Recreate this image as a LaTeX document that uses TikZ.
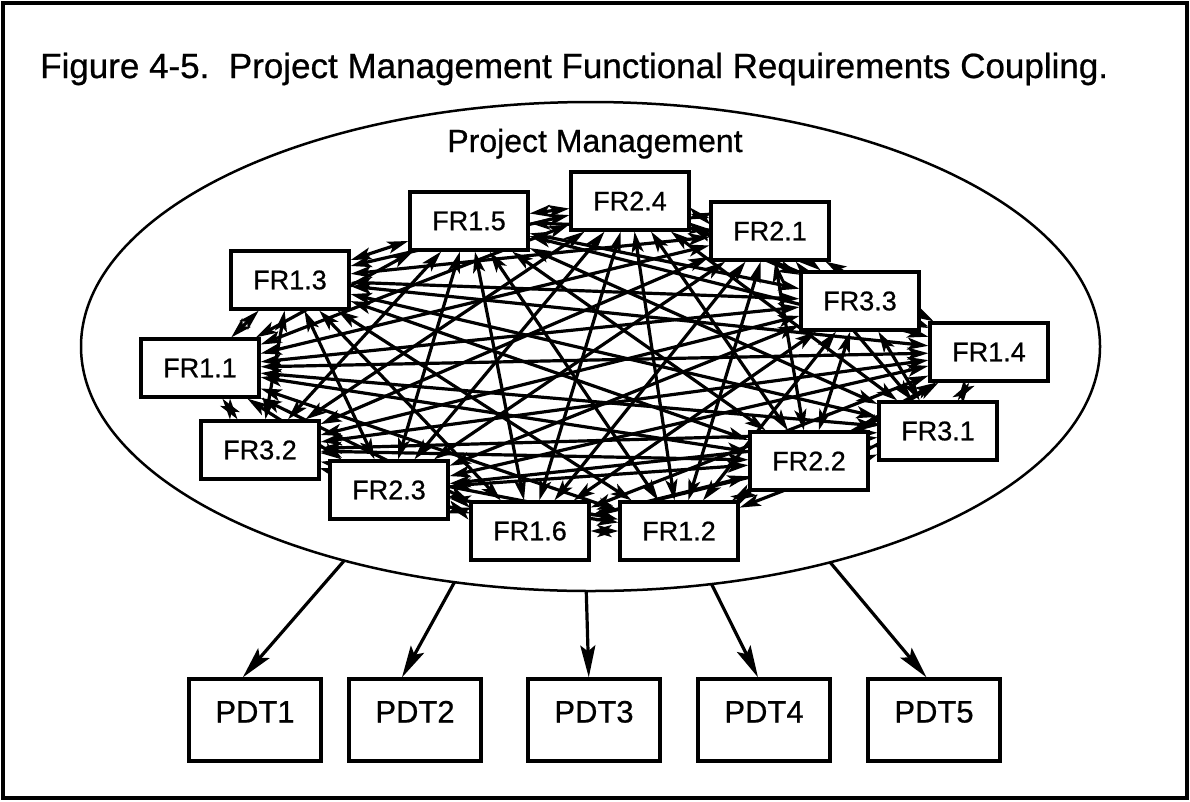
\documentclass[tikz,border=0pt]{standalone}
\usepackage{fontspec}
\setmainfont[FakeBold=0.7]{Liberation Sans}
\usetikzlibrary{arrows.meta,shapes.geometric}
\pgfdeclarelayer{back}
\pgfsetlayers{back,main}
\begin{document}
\begin{tikzpicture}[x=1pt,y=-1pt,
  frbox/.style={draw,line width=3.2pt,fill=white,minimum width=118pt,minimum height=58pt,
    inner sep=0pt,font=\fontsize{27}{30}\selectfont},
  pdtbox/.style={draw,line width=3.2pt,fill=white,minimum width=132pt,minimum height=82pt,
    inner sep=0pt,text height=23pt,text depth=18pt,font=\fontsize{31}{36}\selectfont},
  fhead/.tip={Stealth[length=21pt,width=12pt,inset=5pt]},
  link/.style={line width=3.2pt,arrows={fhead-fhead}},
  flow/.style={line width=3.2pt,-{Stealth[length=32pt,width=15pt,inset=6pt]}}]
\useasboundingbox (0,0) rectangle (1190,801);
% outer frame
\draw[line width=4pt] (3,3) rectangle (1187,798);
% caption
\node[anchor=base west,inner sep=0pt,font=\fontsize{35}{40}\selectfont] (title) at (40,78)
  {Figure 4-5.\ \ Project Management Functional Requirements Coupling.};
% the project management domain
\node[ellipse,draw,line width=2.5pt,minimum width=1019pt,minimum height=489pt,inner sep=0pt,outer sep=0pt]
  (pm) at (590.5,346.5) {};
\node[anchor=base,inner sep=0pt,font=\fontsize{32}{38}\selectfont] (pmlabel) at (595,152) {Project Management};
% functional requirements
\node[frbox] (fr15) at (469,221) {FR1.5};
\node[frbox] (fr24) at (630,201) {FR2.4};
\node[frbox] (fr21) at (770,231) {FR2.1};
\node[frbox] (fr33) at (860,301) {FR3.3};
\node[frbox] (fr14) at (989,352) {FR1.4};
\node[frbox] (fr31) at (938,431) {FR3.1};
\node[frbox] (fr22) at (809,461) {FR2.2};
\node[frbox] (fr12) at (679,531) {FR1.2};
\node[frbox] (fr16) at (530,531) {FR1.6};
\node[frbox] (fr23) at (389,490) {FR2.3};
\node[frbox] (fr32) at (260,450) {FR3.2};
\node[frbox] (fr11) at (200,368) {FR1.1};
\node[frbox] (fr13) at (290,280) {FR1.3};
% every requirement is coupled with every other one
\def\frlist{fr15,fr24,fr21,fr33,fr14,fr31,fr22,fr12,fr16,fr23,fr32,fr11,fr13}
\begin{pgfonlayer}{back}
\foreach \a [count=\i] in \frlist {
  \foreach \b [count=\j] in \frlist {
    \ifnum\j>\i \draw[link] (\a) -- (\b); \fi
  }
}
\end{pgfonlayer}
% product development teams
\node[pdtbox] (pdt1) at (255,720) {PDT1};
\node[pdtbox] (pdt2) at (415,720) {PDT2};
\node[pdtbox] (pdt3) at (594,720) {PDT3};
\node[pdtbox] (pdt4) at (764,720) {PDT4};
\node[pdtbox] (pdt5) at (934,720) {PDT5};
\draw[flow] (pm.221.7) -- (pdt1.106);
\draw[flow] (pm.240.7) -- (pdt2.107);
\draw[flow] (pm.269.6) -- (pdt3.97);
\draw[flow] (pm.297) -- (pdt4.98);
\draw[flow] (pm.318.1) -- (pdt5.100);
\end{tikzpicture}
\end{document}
